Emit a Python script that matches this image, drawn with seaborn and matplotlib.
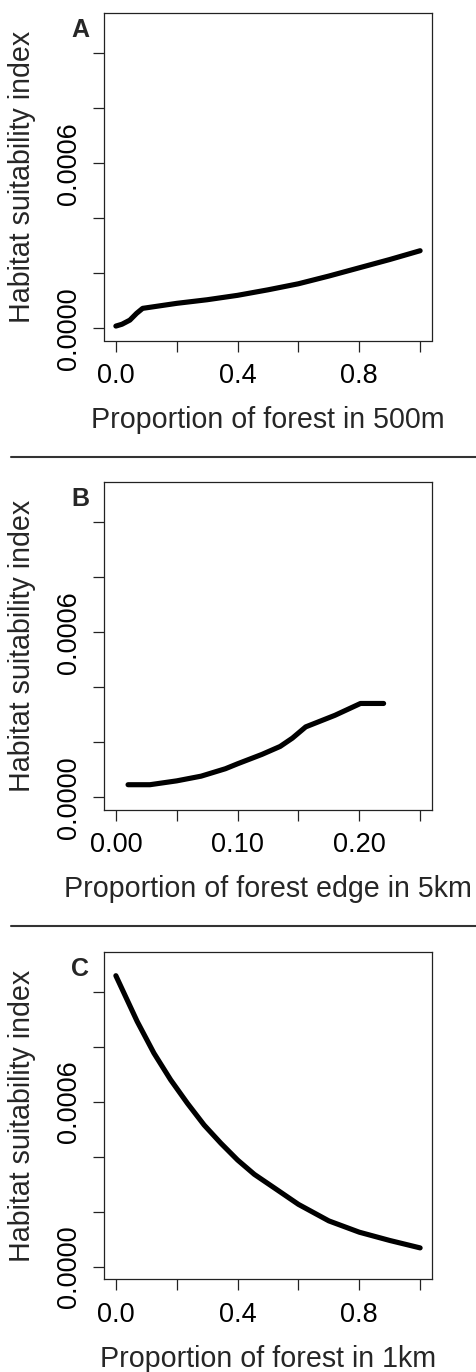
import pandas as pd
import matplotlib
matplotlib.use("Agg")
import matplotlib.pyplot as plt
from matplotlib.lines import Line2D
import seaborn as sns

# A - proportion of forest in 500m
forest_500m = [0.0, 0.02, 0.046, 0.068, 0.088, 0.2, 0.3, 0.4, 0.5, 0.6, 0.7, 0.8, 0.9, 1.0]
hsi_500m = [0.0000084, 0.000015, 0.000030, 0.0000545, 0.0000727, 0.0000909, 0.000104,
            0.000120, 0.000140, 0.000162, 0.000190, 0.000220, 0.000250, 0.000282]

# B - proportion of forest edge in 5km
edge_5km = [0.01, 0.028, 0.05, 0.07, 0.09, 0.10, 0.12, 0.135, 0.145, 0.156, 0.18, 0.201, 0.22]
hsi_edge = [0.000046, 0.000046, 0.000060, 0.000077, 0.000104, 0.000122, 0.000156, 0.000185,
            0.000215, 0.000256, 0.000298, 0.000341, 0.000341]

# C - proportion of forest in 1km
forest_1km = [0.0, 0.07, 0.125, 0.18, 0.235, 0.29, 0.345, 0.4, 0.455, 0.527,
              0.6, 0.7, 0.8, 0.9, 1.0]
hsi_1km = [0.001058, 0.000892, 0.000777, 0.000680, 0.000595, 0.000516, 0.000450,
           0.000389, 0.000337, 0.000283, 0.000228, 0.000168, 0.000127, 0.000097, 0.000070]

y_ticks = [0.0, 0.0002, 0.0004, 0.0006, 0.0008, 0.0010]
y_labels = ["0.0000", "", "", "0.0006", "", ""]
x_ticks_prop = [0.0, 0.2, 0.4, 0.6, 0.8, 1.0]
x_labels_prop = ["0.0", "", "0.4", "", "0.8", ""]
x_ticks_edge = [0.0, 0.05, 0.10, 0.15, 0.20, 0.25]
x_labels_edge = ["0.00", "", "0.10", "", "0.20", ""]

W, H = 476, 1372
sns.set_style("ticks")
plt.rcParams['font.family'] = ['Liberation Sans', 'DejaVu Sans']

fig = plt.figure(figsize=(W / 100, H / 100), dpi=100)

LEFT, RIGHT = 103.7, 432.3


def fx(x):
    return x / W


def fy(y):
    return 1 - y / H


panels = [
    dict(letter="A", top=13.3, bottom=340.5, x=forest_500m, y=hsi_500m,
         xlim=(-0.04, 1.04), xt=x_ticks_prop, xl=x_labels_prop,
         xlabel="Proportion of forest in 500m"),
    dict(letter="B", top=482.3, bottom=809.5, x=edge_5km, y=hsi_edge,
         xlim=(-0.01, 0.26), xt=x_ticks_edge, xl=x_labels_edge,
         xlabel="Proportion of forest edge in 5km"),
    dict(letter="C", top=952.0, bottom=1279.3, x=forest_1km, y=hsi_1km,
         xlim=(-0.04, 1.04), xt=x_ticks_prop, xl=x_labels_prop,
         xlabel="Proportion of forest in 1km"),
]

for p in panels:
    ax = fig.add_axes([fx(LEFT), fy(p["bottom"]), (RIGHT - LEFT) / W,
                       (p["bottom"] - p["top"]) / H])
    df = pd.DataFrame({"x": p["x"], "y": p["y"]})
    sns.lineplot(data=df, x="x", y="y", ax=ax, color="black", linewidth=3.7,
                 solid_capstyle="round", solid_joinstyle="round")
    ax.set_xlim(*p["xlim"])
    ax.set_ylim(-0.000044, 0.001144)
    ax.set_xticks(p["xt"])
    ax.set_xticklabels(p["xl"])
    ax.set_yticks(y_ticks)
    ax.set_yticklabels(y_labels, rotation=90, va="center")
    ax.set_xlabel("")
    ax.set_ylabel("")
    for s in ax.spines.values():
        s.set_visible(True)
        s.set_linewidth(0.9)
        s.set_color("#222222")
    ax.tick_params(axis="both", length=7.9, width=0.9, color="#222222",
                   labelsize=19.5, labelcolor="black")
    ax.tick_params(axis="x", pad=8.4)
    ax.tick_params(axis="y", pad=7.4)

    cx = (LEFT + RIGHT) / 2
    fig.text(fx(cx), fy(p["bottom"] + 87.5), p["xlabel"], ha="center",
             va="baseline", fontsize=20.6)
    fig.text(fx(22.5), fy((p["top"] + p["bottom"]) / 2), "Habitat suitability index",
             rotation=90, ha="center", va="center", fontsize=20.6)
    fig.text(fx(80.5), fy(p["top"] + 23.7), p["letter"], ha="center", va="baseline",
             fontsize=18, fontweight="bold")

# separators between panels
for ys in [456.7, 926.0]:
    fig.add_artist(Line2D([fx(11), 1.0], [fy(ys), fy(ys)], color="#333333",
                          linewidth=1.5))

fig.savefig("out.png", dpi=100)
